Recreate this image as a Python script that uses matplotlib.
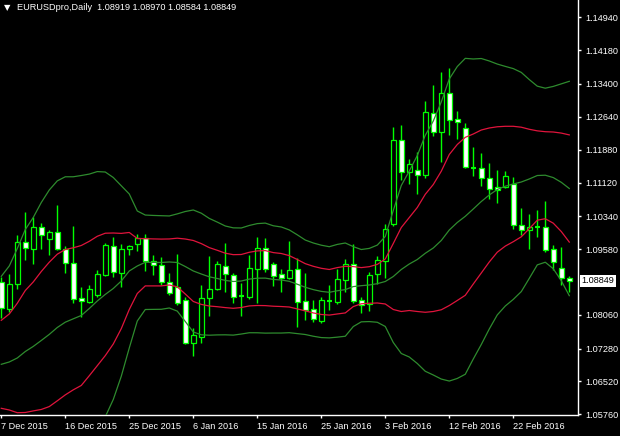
import numpy as np
import matplotlib.pyplot as plt
from matplotlib.transforms import blended_transform_factory

symbol = 'EURUSDpro,Daily'

opens = [1.08820, 1.08196, 1.08781, 1.09738, 1.09590, 1.10085, 1.09821, 1.09969, 1.09576, 1.09252,
         1.08443, 1.08365, 1.08527, 1.08975, 1.09646, 1.09035, 1.09576, 1.09692, 1.09831, 1.09313,
         1.09206, 1.08827, 1.08712, 1.08404, 1.07403, 1.07556, 1.08443, 1.08651, 1.09190, 1.08975,
         1.08497, 1.08480, 1.09128, 1.09599, 1.09229, 1.09005, 1.08920, 1.09114, 1.08374, 1.08189,
         1.07925, 1.08388, 1.08365, 1.08873, 1.09229, 1.08397, 1.08305, 1.08998, 1.09306, 1.10154,
         1.12096, 1.11370, 1.11410, 1.11301, 1.12721, 1.12281, 1.13190, 1.12589, 1.12374, 1.11463,
         1.11449, 1.11218, 1.11010, 1.11010, 1.11086, 1.10131, 1.10022, 1.10099, 1.10085, 1.09576,
         1.09137, 1.08919]
highs = [1.08943, 1.09005, 1.09907, 1.10432, 1.10316, 1.10184, 1.10022, 1.10600, 1.09652, 1.10115,
         1.08698, 1.08751, 1.09098, 1.09715, 1.09854, 1.09699, 1.09683, 1.09930, 1.09930, 1.09437,
         1.09398, 1.09021, 1.09468, 1.08480, 1.07750, 1.08751, 1.09421, 1.09313, 1.09715, 1.09021,
         1.08790, 1.09444, 1.09868, 1.09844, 1.09290, 1.09121, 1.09768, 1.09368, 1.09021, 1.08404,
         1.08480, 1.08751, 1.09128, 1.09345, 1.09699, 1.08466, 1.09044, 1.09421, 1.10154, 1.12404,
         1.12450, 1.11664, 1.11833, 1.13012, 1.13375, 1.13668, 1.13761, 1.12774, 1.12489, 1.11941,
         1.11796, 1.11565, 1.11410, 1.11387, 1.11241, 1.10524, 1.10392, 1.10485, 1.10693, 1.09676,
         1.09629, 1.08970]
lows = [1.07981, 1.08134, 1.08658, 1.09329, 1.09236, 1.09590, 1.09451, 1.09560, 1.09035, 1.08328,
        1.08018, 1.08328, 1.08480, 1.08959, 1.08943, 1.08712, 1.09444, 1.09544, 1.09081, 1.08982,
        1.08751, 1.08520, 1.08288, 1.07387, 1.07116, 1.07417, 1.08041, 1.08635, 1.08596, 1.08342,
        1.08034, 1.08420, 1.08342, 1.09058, 1.08728, 1.08589, 1.08890, 1.07787, 1.07942, 1.07902,
        1.07879, 1.08173, 1.08305, 1.08596, 1.08342, 1.08110, 1.08157, 1.08767, 1.08920, 1.10122,
        1.11178, 1.11086, 1.10855, 1.11232, 1.12203, 1.11602, 1.12219, 1.12126, 1.11456, 1.11278,
        1.11047, 1.10732, 1.10654, 1.11000, 1.10046, 1.09907, 1.09576, 1.09868, 1.09521, 1.09098,
        1.08751, 1.08584]
closes = [1.08212, 1.08774, 1.09738, 1.09599, 1.10085, 1.09900, 1.09969, 1.09576, 1.09252, 1.08434,
          1.08374, 1.08651, 1.09005, 1.09676, 1.09044, 1.09583, 1.09646, 1.09831, 1.09313, 1.09206,
          1.08827, 1.08559, 1.08342, 1.07403, 1.07595, 1.08443, 1.08651, 1.09229, 1.08998, 1.08480,
          1.08497, 1.09144, 1.09599, 1.09128, 1.08966, 1.08920, 1.09098, 1.08365, 1.08173, 1.07958,
          1.08397, 1.08388, 1.08883, 1.09229, 1.08388, 1.08288, 1.08975, 1.09322, 1.10039, 1.12096,
          1.11370, 1.11541, 1.11301, 1.12744, 1.12281, 1.13190, 1.12566, 1.12526, 1.11472, 1.11463,
          1.11218, 1.10963, 1.10954, 1.11278, 1.10131, 1.10022, 1.10099, 1.10099, 1.09560, 1.09290,
          1.08920, 1.08849]

# bollinger middle line and one standard deviation
bb_mid = [1.06917, 1.06971, 1.07063, 1.07213, 1.07331, 1.07468, 1.07609, 1.07768, 1.07891, 1.07969,
          1.08046, 1.08207, 1.08381, 1.08533, 1.08670, 1.08843, 1.09075, 1.09190, 1.09276, 1.09273,
          1.09271, 1.09283, 1.09271, 1.09178, 1.09075, 1.09005, 1.08940, 1.08901, 1.08857, 1.08832,
          1.08843, 1.08887, 1.08908, 1.08910, 1.08880, 1.08866, 1.08836, 1.08769, 1.08698, 1.08644,
          1.08603, 1.08582, 1.08617, 1.08644, 1.08714, 1.08735, 1.08751, 1.08781, 1.08832, 1.08947,
          1.09109, 1.09236, 1.09340, 1.09484, 1.09606, 1.09780, 1.10022, 1.10196, 1.10339, 1.10508,
          1.10681, 1.10832, 1.10959, 1.11035, 1.11086, 1.11132, 1.11202, 1.11282, 1.11289, 1.11234,
          1.11125, 1.10982]
bb_dev = [0.01017, 0.01110, 0.01265, 0.01410, 0.01491, 0.01595, 0.01669, 0.01695, 0.01681, 0.01642,
          0.01618, 0.01554, 0.01496, 0.01415, 0.01283, 0.01101, 0.00890, 0.00636, 0.00546, 0.00543,
          0.00541, 0.00532, 0.00562, 0.00636, 0.00705, 0.00703, 0.00675, 0.00652, 0.00629, 0.00620,
          0.00613, 0.00620, 0.00631, 0.00636, 0.00620, 0.00613, 0.00594, 0.00571, 0.00546, 0.00539,
          0.00534, 0.00527, 0.00536, 0.00539, 0.00462, 0.00418, 0.00423, 0.00446, 0.00520, 0.00763,
          0.00971, 0.01075, 0.01202, 0.01364, 0.01468, 0.01602, 0.01746, 0.01803, 0.01826, 0.01734,
          0.01653, 0.01549, 0.01450, 0.01385, 0.01334, 0.01267, 0.01149, 0.01033, 0.01006, 0.01054,
          0.01138, 0.01239]

price_ticks = [1.14940, 1.14180, 1.13400, 1.12640, 1.11880, 1.11120, 1.10340, 1.09580,
               1.08060, 1.07280, 1.06520, 1.05760]
date_labels = ['7 Dec 2015', '16 Dec 2015', '25 Dec 2015', '6 Jan 2016', '15 Jan 2016',
               '25 Jan 2016', '3 Feb 2016', '12 Feb 2016', '22 Feb 2016']

plt.rcParams['font.family'] = ['Liberation Sans', 'DejaVu Sans']

o = np.array(opens)
h = np.array(highs)
l = np.array(lows)
c = np.array(closes)
mid = np.array(bb_mid)
dev = np.array(bb_dev)
x = np.arange(len(c))

fig = plt.figure(figsize=(6.2, 4.36), dpi=100, facecolor='black')
ax = fig.add_axes([0, 1 - 415 / 436, 578 / 620, 415 / 436])
ax.set_facecolor('black')

lime = '#00ff00'
body_w = 0.6

# wicks
ax.vlines(x, l, h, color=lime, linewidth=1, zorder=2)

# bodies: white = down, black = up
for i in range(len(c)):
    if abs(c[i] - o[i]) < 1e-5:
        ax.hlines(c[i], i - body_w / 2, i + body_w / 2, color=lime, linewidth=1.5, zorder=3)
        continue
    fill = 'white' if c[i] < o[i] else 'black'
    ax.bar(i, abs(c[i] - o[i]), bottom=min(o[i], c[i]), width=body_w,
           facecolor=fill, edgecolor=lime, linewidth=0.9, zorder=3)

# bollinger bands (1 and 2 deviations)
green = '#2e8b2e'
red = '#e0143c'
ax.plot(x, mid, color=green, lw=0.9, zorder=4)
ax.plot(x, mid + 2 * dev, color=green, lw=0.9, zorder=4)
ax.plot(x, mid - 2 * dev, color=green, lw=0.9, zorder=4)
ax.plot(x, mid + dev, color=red, lw=0.9, zorder=4)
ax.plot(x, mid - dev, color=red, lw=0.9, zorder=4)

ax.set_xlim(-0.16, 72.09)
ax.set_ylim(1.05745, 1.15340)

for s in ['top', 'left']:
    ax.spines[s].set_visible(False)
for s in ['right', 'bottom']:
    ax.spines[s].set_color('white')
    ax.spines[s].set_linewidth(1)

ax.yaxis.tick_right()
ax.set_yticks(price_ticks)
ax.set_yticklabels(['%.5f' % p for p in price_ticks])
ax.tick_params(axis='y', colors='white', length=2.5, width=1, pad=2.5, labelsize=6.6)

date_pos = np.arange(len(date_labels)) * 8
ax.set_xticks(date_pos)
ax.set_xticklabels(date_labels, ha='left')
ax.tick_params(axis='x', colors='white', length=2.5, width=1, pad=2.5, labelsize=6.6)

# current price box
trans = blended_transform_factory(ax.transAxes, ax.transData)
ax.text(1.006, c[-1], '%.5f' % c[-1], transform=trans, color='black', fontsize=6.6,
        va='center', ha='left', clip_on=False,
        bbox=dict(facecolor='white', edgecolor='none', pad=1.2))

# header
fig.text(4 / 620, 1 - 8 / 436, '\u25bc', color='white', fontsize=6, va='center', ha='left',
         family='DejaVu Sans')
header = symbol + '  ' + ' '.join('%.5f' % v for v in [o[-1], h[-1], l[-1], c[-1]])
fig.text(17 / 620, 1 - 8 / 436, header, color='white', fontsize=6.6, va='center', ha='left')

fig.savefig('out.png', dpi=100, facecolor='black')
